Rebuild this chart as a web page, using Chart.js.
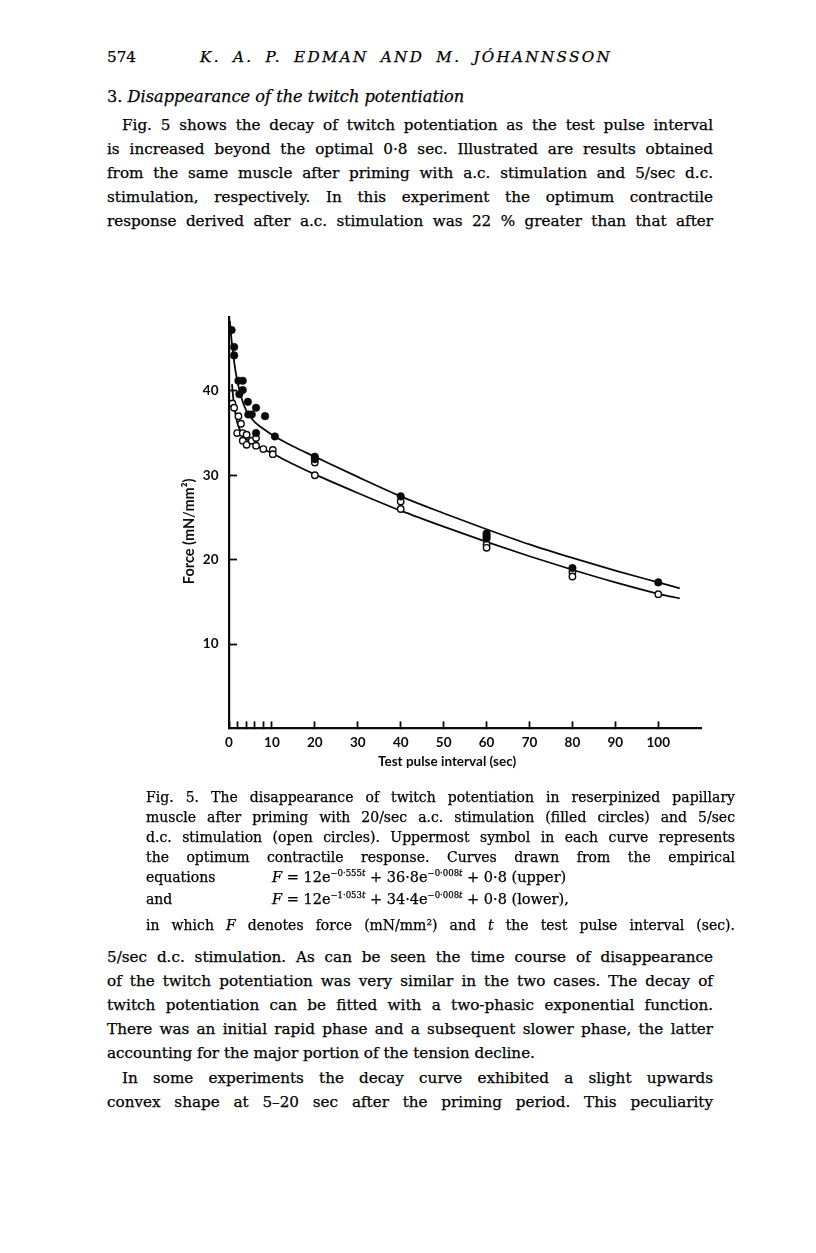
<!DOCTYPE html>
<html><head><meta charset="utf-8">
<script src="https://cdn.jsdelivr.net/npm/chart.js@4.4.1/dist/chart.umd.min.js"></script>
<style>
html,body{margin:0;padding:0;background:#fff;}
body{width:816px;height:1253px;position:relative;overflow:hidden;font-family:"DejaVu Serif",serif;color:#000;-webkit-text-stroke:0.25px #000;}
.t{position:absolute;line-height:20px;font-size:15.2px;}
.b{left:107px;width:606px;}
.bi{left:122px;width:591px;}
.j{text-align:justify;text-align-last:justify;}
.c{position:absolute;line-height:18px;font-size:14px;left:146px;width:589px;}
i{font-style:italic;}
sup{font-size:8.5px;vertical-align:6px;line-height:0;}
#wrap{position:absolute;left:150px;top:290px;width:580px;height:500px;}
</style></head><body>

<div class="t" style="left:107px;top:47px;">574</div>
<div class="t j" style="left:200px;width:412px;top:47px;font-style:italic;letter-spacing:2.3px;">K. A. P. EDMAN AND M. JÓHANNSSON</div>

<div class="t" style="left:107px;top:87px;font-size:16.2px;">3. <i>Disappearance of the twitch potentiation</i></div>

<div class="t bi j" style="top:115px;">Fig. 5 shows the decay of twitch potentiation as the test pulse interval</div>
<div class="t b j" style="top:139px;">is increased beyond the optimal 0·8 sec. Illustrated are results obtained</div>
<div class="t b j" style="top:163px;">from the same muscle after priming with a.c. stimulation and 5/sec d.c.</div>
<div class="t b j" style="top:187px;">stimulation, respectively. In this experiment the optimum contractile</div>
<div class="t b j" style="top:211px;">response derived after a.c. stimulation was 22 % greater than that after</div>

<div id="wrap"><canvas id="c" width="580" height="500"></canvas></div>

<div class="c j" style="top:788px;">Fig. 5. The disappearance of twitch potentiation in reserpinized papillary</div>
<div class="c j" style="top:808px;">muscle after priming with 20/sec a.c. stimulation (filled circles) and 5/sec</div>
<div class="c j" style="top:828px;">d.c. stimulation (open circles). Uppermost symbol in each curve represents</div>
<div class="c j" style="top:848px;">the optimum contractile response. Curves drawn from the empirical</div>
<div class="c" style="top:868px;">equations</div>
<div class="c" style="top:868px;left:272px;width:auto;font-size:14.5px;"><i>F</i> = 12e<sup>−0·555<i>t</i></sup> + 36·8e<sup>−0·008<i>t</i></sup> + 0·8 (upper)</div>
<div class="c" style="top:890px;">and</div>
<div class="c" style="top:890px;left:272px;width:auto;font-size:14.5px;"><i>F</i> = 12e<sup>−1·053<i>t</i></sup> + 34·4e<sup>−0·008<i>t</i></sup> + 0·8 (lower),</div>
<div class="c j" style="top:916px;">in which <i>F</i> denotes force (mN/mm²) and <i>t</i> the test pulse interval (sec).</div>

<div class="t b j" style="top:947px;">5/sec d.c. stimulation. As can be seen the time course of disappearance</div>
<div class="t b j" style="top:971px;">of the twitch potentiation was very similar in the two cases. The decay of</div>
<div class="t b j" style="top:995px;">twitch potentiation can be fitted with a two-phasic exponential function.</div>
<div class="t b j" style="top:1019px;">There was an initial rapid phase and a subsequent slower phase, the latter</div>
<div class="t b" style="top:1043px;">accounting for the major portion of the tension decline.</div>
<div class="t bi j" style="top:1068px;">In some experiments the decay curve exhibited a slight upwards</div>
<div class="t b j" style="top:1092px;">convex shape at 5–20 sec after the priming period. This peculiarity</div>

<script>
// ---- data ----
const filledT = [0.6, 1.2, 1.2, 2.2, 3.2, 3.2, 2.4, 4.4, 6.3, 4.5, 5.3, 8.4, 6.3, 10.7, 20, 20, 40, 60, 60, 60, 80, 100];
const filledF = [47.2, 45.2, 44.2, 41.2, 41.2, 40.1, 39.6, 38.7, 38.0, 37.2, 37.2, 37.0, 35.0, 34.6, 32.2, 31.9, 27.5, 23.1, 22.8, 22.5, 19.0, 17.3];
const openT = [0.8, 1.2, 2.2, 2.8, 1.9, 3.2, 4.1, 3.2, 4.1, 5.3, 6.3, 6.3, 8.0, 10.2, 10.2, 20, 20, 40, 40, 60, 60, 80, 80, 100];
const openF = [38.5, 38.0, 37.0, 36.1, 35.0, 35.0, 34.8, 34.1, 33.6, 34.1, 34.4, 33.5, 33.1, 33.0, 32.5, 31.5, 30.0, 26.9, 26.0, 21.8, 21.4, 18.5, 18.0, 15.9];
const upperT = [0.2, 0.5, 1, 1.5, 2, 3, 4, 5, 6, 8, 10, 15, 20, 30, 40, 50, 60, 70, 80, 90, 100, 105];
const upperF = [48.3, 46.5, 44.2, 42.4, 41.0, 39.0, 37.7, 36.9, 36.3, 35.5, 34.8, 33.4, 32.2, 29.8, 27.5, 25.5, 23.6, 21.8, 20.2, 18.7, 17.3, 16.6];
const lowerT = [0.7, 1, 1.5, 2, 3, 4, 5, 6, 8, 10, 15, 20, 30, 40, 50, 60, 70, 80, 90, 100, 105];
const lowerF = [40.8, 39.1, 37.3, 36.1, 34.9, 34.3, 33.9, 33.6, 33.1, 32.6, 31.3, 30.1, 27.9, 25.8, 23.9, 22.1, 20.4, 18.8, 17.3, 15.95, 15.4];
const xTicks = [0, 2, 4, 6, 8, 10, 20, 30, 40, 50, 60, 70, 80, 90, 100];
const xLabels = [0, 10, 20, 30, 40, 50, 60, 70, 80, 90, 100];
const yTicks = [10, 20, 30, 40];

const pts = (xs, ys) => xs.map((x, i) => ({x: x, y: ys[i]}));
const ink = '#0a0a0a';
const labFont = {family: 'Lato', weight: 'bold', size: 13.5};
const titleFont = {family: 'Lato', weight: 'bold', size: 13.5};

new Chart(document.getElementById('c'), {
  type: 'scatter',
  data: {datasets: [
    {type: 'line', data: pts(upperT, upperF), borderColor: ink, borderWidth: 1.8, pointRadius: 0, cubicInterpolationMode: 'monotone', fill: false, order: 3},
    {type: 'line', data: pts(lowerT, lowerF), borderColor: ink, borderWidth: 1.8, pointRadius: 0, cubicInterpolationMode: 'monotone', fill: false, order: 3},
    {data: pts(filledT, filledF), pointRadius: 3.8, pointBackgroundColor: ink, pointBorderColor: ink, pointBorderWidth: 0.5, order: 1},
    {data: pts(openT, openF), pointRadius: 3.2, pointBackgroundColor: '#fff', pointBorderColor: ink, pointBorderWidth: 1.4, order: 2}
  ]},
  options: {
    responsive: false, animation: false, devicePixelRatio: 1,
    layout: {padding: {left: 0, right: 28.8, top: 15, bottom: 16.6}},
    plugins: {legend: {display: false}, tooltip: {enabled: false}},
    scales: {
      x: {
        type: 'linear', min: 0, max: 110,
        afterBuildTicks: s => { s.ticks = xTicks.map(v => ({value: v})); },
        afterFit: s => { s.height = 45; },
        ticks: {callback: v => xLabels.includes(v) ? String(v) : '', color: ink, font: labFont, padding: 13, maxRotation: 0, autoSkip: false},
        grid: {drawOnChartArea: false, drawTicks: true, tickLength: -7, tickWidth: 1.8, tickColor: ink},
        border: {display: true, color: ink, width: 2.2},
        title: {display: true, text: 'Test pulse interval (sec)' + '\u00a0'.repeat(11), color: ink, font: titleFont, padding: {top: 0, bottom: 4}}
      },
      y: {
        type: 'linear', min: 0, max: 48.8,
        afterBuildTicks: s => { s.ticks = yTicks.map(v => ({value: v})); },
        afterFit: s => { s.width = 79; },
        ticks: {color: ink, font: labFont, padding: 18.5},
        grid: {drawOnChartArea: false, drawTicks: true, tickLength: -8, tickWidth: 1.8, tickColor: ink},
        border: {display: true, color: ink, width: 2.2},
        title: {display: true, text: 'Force (mN/mm²)' + '\u00a0'.repeat(5), color: ink, font: {family: 'Lato', weight: 'bold', size: 14.5}, padding: {top: 31, bottom: 0}}
      }
    }
  }
});
</script>
</body></html>
